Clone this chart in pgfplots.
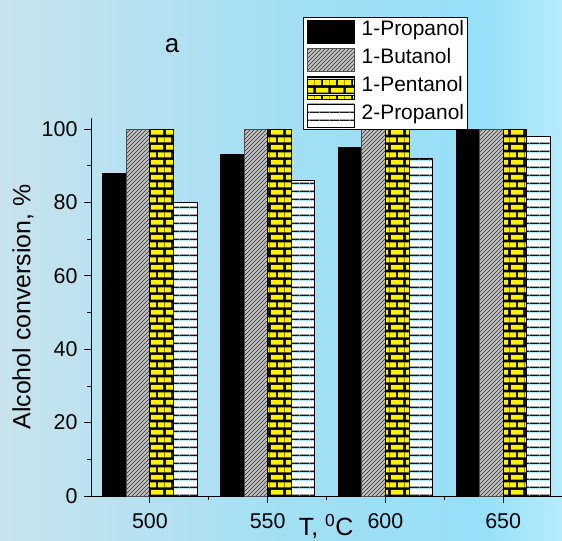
\documentclass[border=0pt]{standalone}
\usepackage{fontspec}
\setmainfont{Liberation Sans}
\usepackage{pgfplots}
\pgfplotsset{compat=1.18}
\usetikzlibrary{patterns.meta}

\definecolor{bgL}{RGB}{200,227,237}
\definecolor{bgM}{RGB}{163,223,244}
\definecolor{bgN}{RGB}{150,224,249}
\definecolor{bgR}{RGB}{182,236,252}
\definecolor{hatchbg}{RGB}{192,192,192}

% panel background, left to right
\pgfdeclarehorizontalshading{panelbg}{100bp}{color(0bp)=(bgL); color(25bp)=(bgL); color(50bp)=(bgM); color(68bp)=(bgN); color(75bp)=(bgR); color(100bp)=(bgR)}

% grey with black diagonal hatching
\pgfdeclarepattern{
  name=greyhatch,
  type=colored,
  bottom left={\pgfpoint{0bp}{0bp}},
  top right={\pgfpoint{4.4bp}{4.4bp}},
  tile size={\pgfpoint{4.4bp}{4.4bp}},
  code={
    \pgfsetfillcolor{hatchbg}
    \pgfpathrectangle{\pgfpoint{0bp}{0bp}}{\pgfpoint{4.4bp}{4.4bp}}
    \pgfusepath{fill}
    \pgfsetstrokecolor{black!80}
    \pgfsetlinewidth{0.6bp}
    \pgfpathmoveto{\pgfpoint{-1bp}{-1bp}}\pgfpathlineto{\pgfpoint{5.4bp}{5.4bp}}
    \pgfpathmoveto{\pgfpoint{-1bp}{3.4bp}}\pgfpathlineto{\pgfpoint{1bp}{5.4bp}}
    \pgfpathmoveto{\pgfpoint{3.4bp}{-1bp}}\pgfpathlineto{\pgfpoint{5.4bp}{1bp}}
    \pgfusepath{stroke}
  }
}

% yellow bricks on black mortar
\pgfdeclarepattern{
  name=yellowbricks,
  type=colored,
  bottom left={\pgfpoint{0bp}{0bp}},
  top right={\pgfpoint{15bp}{15.4bp}},
  tile size={\pgfpoint{15bp}{15.4bp}},
  code={
    \pgfsetfillcolor{black}
    \pgfpathrectangle{\pgfpoint{0bp}{0bp}}{\pgfpoint{15bp}{15.4bp}}
    \pgfusepath{fill}
    \pgfsetfillcolor{yellow}
    \pgfpathrectangle{\pgfpoint{1bp}{1.35bp}}{\pgfpoint{13bp}{5bp}}
    \pgfpathrectangle{\pgfpoint{0bp}{9.05bp}}{\pgfpoint{6.5bp}{5bp}}
    \pgfpathrectangle{\pgfpoint{8.5bp}{9.05bp}}{\pgfpoint{6.5bp}{5bp}}
    \pgfusepath{fill}
  }
}

% white with horizontal black lines
\pgfdeclarepattern{
  name=whitelines,
  type=colored,
  bottom left={\pgfpoint{0bp}{0bp}},
  top right={\pgfpoint{10bp}{7.5bp}},
  tile size={\pgfpoint{10bp}{7.5bp}},
  code={
    \pgfsetfillcolor{white}
    \pgfpathrectangle{\pgfpoint{0bp}{0bp}}{\pgfpoint{10bp}{7.5bp}}
    \pgfusepath{fill}
    \pgfsetfillcolor{black!90}
    \pgfpathrectangle{\pgfpoint{0bp}{0.2bp}}{\pgfpoint{10bp}{1bp}}
    \pgfusepath{fill}
    \pgfsetfillcolor{black!35}
    \pgfpathrectangle{\pgfpoint{0bp}{1.2bp}}{\pgfpoint{10bp}{0.7bp}}
    \pgfusepath{fill}
  }
}

\pgfplotsset{
  swatch/.style={legend image code/.code={\draw[##1,line width=0.8bp] (0bp,-12.8bp) rectangle (47bp,10.2bp);}},
}

\begin{document}
\begin{tikzpicture}
\path[use as bounding box] (0,0) rectangle (562bp,541bp);
\shade[shading=panelbg] (0,0) rectangle (562bp,541bp);
\begin{axis}[
  at={(91bp,45bp)}, anchor=south west,
  scale only axis, width=471bp, height=378bp,
  xmin=475, xmax=675, ymin=0, ymax=103,
  axis lines*=left,
  axis line style={line width=0.8bp, black},
  tick align=outside,
  major tick length=7bp, minor tick length=4bp,
  tick style={line width=0.8bp, black},
  xtick={500,550,600,650}, minor xtick={525,575,625},
  ytick={0,20,40,60,80,100}, minor ytick={10,30,50,70,90},
  /pgf/number format/assume math mode=true,
  /pgf/number format/set thousands separator={},
  every tick label/.append style={font=\fontsize{21.5}{25}\selectfont},
  xticklabel style={yshift=-7bp},
  yticklabel style={xshift=-3bp},
  ylabel={Alcohol conversion, \%},
  xlabel={T, \textsuperscript{0}C},
  every axis y label/.style={at={(axis description cs:-0.1444,0.5)}, rotate=90, anchor=center, font=\fontsize{25}{30}\selectfont},
  every axis x label/.style={at={(axis description cs:0.499,-0.1032)}, anchor=base, font=\fontsize{25}{30}\selectfont},
  ybar, bar width=10,
  clip=false,
  legend cell align=left,
  legend style={at={(axis description cs:0.4501,1.2665)}, anchor=north west,
    draw=black, line width=0.8bp, fill=white,
    inner xsep=3.5bp, inner ysep=2.5bp, row sep=4bp,
    font=\fontsize{21}{24}\selectfont,
    nodes={inner sep=0pt, text height=10bp, text depth=0pt},
    /tikz/every odd column/.append style={column sep=7bp}},
]
\addplot[bar shift=-15, fill=black, draw=black, line width=0.8bp, swatch]
  coordinates {(500,88) (550,93) (600,95) (650,100)};
\addlegendentry{1-Propanol}
\addplot[bar shift=-5, pattern=greyhatch, draw=black!70, line width=0.8bp, swatch]
  coordinates {(500,100) (550,100) (600,100) (650,100)};
\addlegendentry{1-Butanol}
\addplot[bar shift=5, pattern=yellowbricks, draw=black, line width=0.8bp, swatch]
  coordinates {(500,100) (550,100) (600,100) (650,100)};
\addlegendentry{1-Pentanol}
\addplot[bar shift=15, pattern=whitelines, draw=black, line width=0.8bp, swatch]
  coordinates {(500,80) (550,86) (600,92) (650,98)};
\addlegendentry{2-Propanol}
\end{axis}
\node[anchor=base, font=\fontsize{26}{30}\selectfont] at (172bp,488bp) {a};
\end{tikzpicture}
\end{document}
